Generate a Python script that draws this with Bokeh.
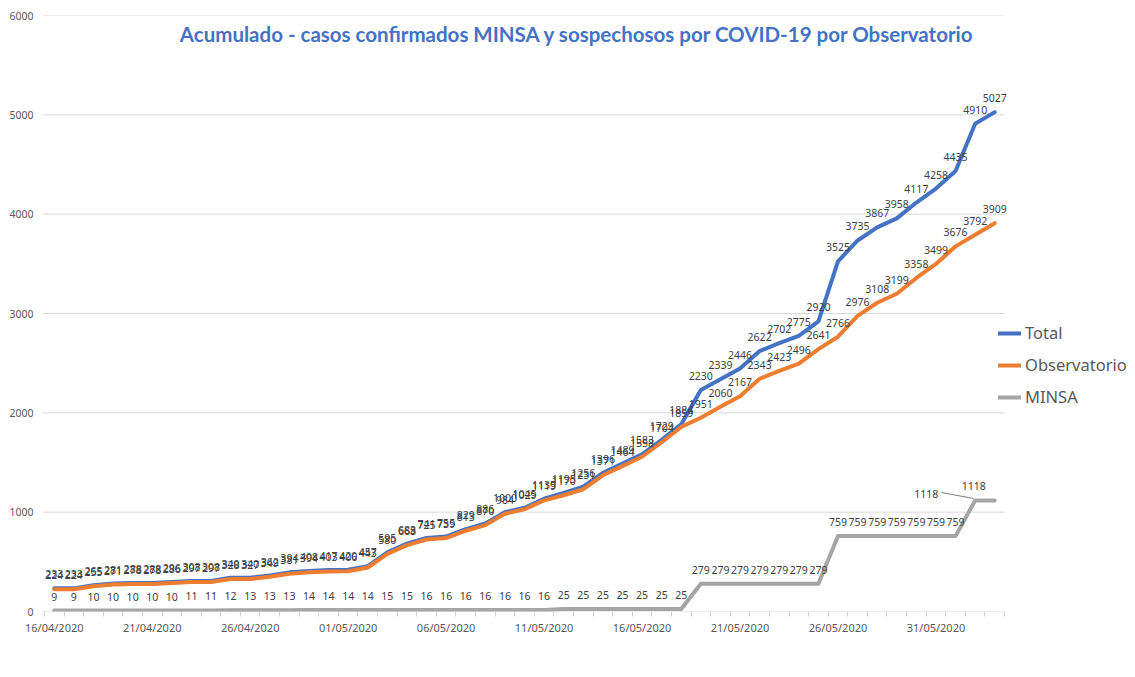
import pandas as pd
from bokeh.plotting import figure
from bokeh.models import (ColumnDataSource, FixedTicker, DatetimeTickFormatter, Legend,
                          LegendItem, Label, Range1d, Arrow)
from bokeh.core.properties import value
from bokeh.embed import file_html
from bokeh.resources import INLINE

# ---------------- data ----------------
start_date = "2020-04-16"
n_days = 49
total = [233, 233, 265, 281, 288, 288, 296, 308, 308, 340, 340, 362, 394, 408, 417, 420, 457,
         595, 683, 741, 755, 829, 886, 1000, 1045, 1135, 1195, 1256, 1396, 1489, 1583, 1729,
         1884, 2230, 2339, 2446, 2622, 2702, 2775, 2920, 3525, 3735, 3867, 3958, 4117, 4258,
         4435, 4910, 5027]
observatorio = [224, 224, 255, 271, 278, 278, 286, 297, 297, 328, 327, 349, 381, 394, 403, 406,
                443, 580, 668, 725, 739, 813, 870, 984, 1029, 1119, 1170, 1231, 1371, 1464, 1558,
                1704, 1859, 1951, 2060, 2167, 2343, 2423, 2496, 2641, 2766, 2976, 3108, 3199,
                3358, 3499, 3676, 3792, 3909]
minsa = [9, 9, 10, 10, 10, 10, 10, 11, 11, 12, 13, 13, 13, 14, 14, 14, 14, 15, 15, 16, 16, 16,
         16, 16, 16, 16, 25, 25, 25, 25, 25, 25, 25, 279, 279, 279, 279, 279, 279, 279, 759,
         759, 759, 759, 759, 759, 759, 1118, 1118]
series_names = ["Total", "Observatorio", "MINSA"]
y_ticks = [0, 1000, 2000, 3000, 4000, 5000, 6000]
title_text = "Acumulado - casos confirmados MINSA y sospechosos por COVID-19 por Observatorio"

colors = {"Total": "#4472C4", "Observatorio": "#ED7D31", "MINSA": "#A5A5A5"}

dates = pd.date_range(start_date, periods=n_days, freq="D")
day = pd.Timedelta(days=1)

# plot area: axis runs from x0 to x1; extra room on the right (inside the frame) holds the legend
x0 = dates[0] - 0.6 * day
x1 = dates[-1] + 0.5 * day
px_per_day = 19.6
legend_room = 131 / px_per_day * day

p = figure(width=1135, height=677, output_backend="svg", toolbar_location=None,
           x_axis_type="datetime",
           x_range=Range1d(x0, x1 + legend_room),
           y_range=Range1d(0, 6000))
p.min_border_left = 42
p.min_border_right = 0
p.min_border_top = 15
p.min_border_bottom = 66
p.outline_line_color = None
p.background_fill_color = "white"
p.border_fill_color = "white"

# axes
p.yaxis.ticker = FixedTicker(ticks=y_ticks)
p.yaxis.axis_line_color = None
p.yaxis.major_tick_line_color = None
p.yaxis.minor_tick_line_color = None
p.yaxis.major_label_text_font = "Noto Sans"
p.yaxis.major_label_text_font_size = "10.5px"
p.yaxis.major_label_text_color = "#595959"
p.yaxis.major_label_standoff = 3

ms = lambda t: t.value / 1e6
major = [ms(dates[i]) for i in range(0, n_days, 5)]
minor = [ms(d - 0.5 * day) for d in dates] + [ms(x1)]
p.xaxis.ticker = FixedTicker(ticks=major, minor_ticks=minor)
p.xaxis.formatter = DatetimeTickFormatter(days="%d/%m/%Y", months="%d/%m/%Y")
p.xaxis.axis_line_color = None
p.xaxis.major_tick_line_color = None
p.xaxis.minor_tick_line_color = "#d0d0d0"
p.xaxis.minor_tick_out = 5
p.xaxis.minor_tick_in = 0
p.xaxis.major_label_text_font = "Noto Sans"
p.xaxis.major_label_text_font_size = "11px"
p.xaxis.major_label_text_color = "#595959"
p.xaxis.major_label_standoff = 2

p.xgrid.grid_line_color = None
p.ygrid.grid_line_color = None

# gridlines and axis line limited to the plot area
p.segment(x0=[x0] * len(y_ticks), x1=[x1] * len(y_ticks), y0=y_ticks, y1=y_ticks,
          line_color="#d9d9d9", line_width=1)

# lines
renderers = {}
for name, vals in zip(series_names, [total, observatorio, minsa]):
    src = ColumnDataSource(dict(x=dates, y=vals))
    renderers[name] = p.line("x", "y", source=src, line_color=colors[name], line_width=4,
                             line_join="round", line_cap="round")

# data labels
for name, vals in zip(series_names, [total, observatorio, minsa]):
    xo = [0] * n_days
    yo = [-10] * n_days
    if name == "MINSA":
        xo[-2], yo[-2] = -49, -2
        xo[-1], yo[-1] = -21, -10
    src = ColumnDataSource(dict(x=dates, y=vals, t=[str(v) for v in vals], xo=xo, yo=yo))
    p.text("x", "y", text="t", source=src, x_offset="xo", y_offset="yo",
           text_font=value("Noto Sans"), text_font_size="10.5px", text_color="#404040",
           text_align="center", text_baseline="bottom")

# leader line of the displaced MINSA label
p.add_layout(Arrow(end=None, x_start=899, y_start=119, x_end=931, y_end=113,
                   start_units="screen", end_units="screen",
                   line_color="#7f7f7f", line_width=1))

# legend
legend = Legend(items=[LegendItem(label=n, renderers=[renderers[n]]) for n in series_names],
                location=(956, 203))
legend.border_line_color = None
legend.background_fill_alpha = 0
legend.label_text_font = "Noto Sans"
legend.label_text_font_size = "16.5px"
legend.label_text_color = "#595959"
legend.glyph_width = 23
legend.glyph_height = 20
legend.label_height = 20
legend.spacing = 9
legend.padding = 0
legend.margin = 0
legend.label_standoff = 4
p.add_layout(legend)

# title
p.add_layout(Label(x=535, y=578, x_units="screen", y_units="screen", text=title_text,
                   text_align="center", text_baseline="middle", text_font="Lato",
                   text_font_style="bold", text_font_size="20.5px", text_color="#4472C4"))

open("out.html", "w").write(file_html(p, INLINE))
